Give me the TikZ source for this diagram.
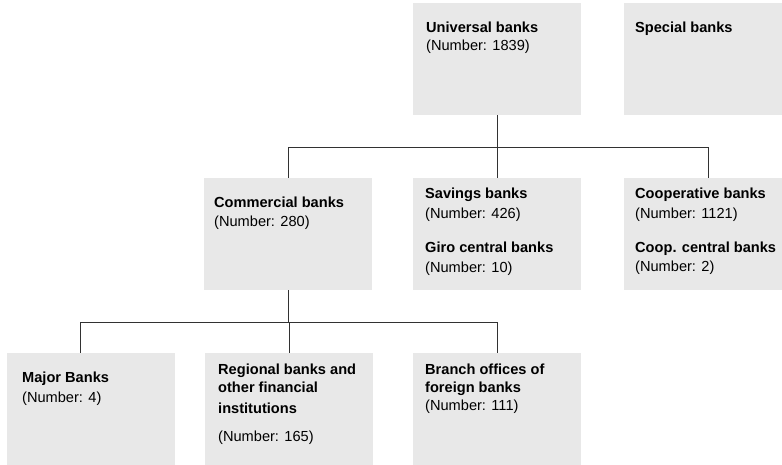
\documentclass[tikz,border=0pt]{standalone}
\usepackage{fontspec}
\setmainfont{Liberation Sans}
\usetikzlibrary{calc}
\definecolor{boxgray}{RGB}{232,232,232}
\definecolor{linegray}{RGB}{50,50,50}
\begin{document}
\begin{tikzpicture}[x=1pt,y=-1pt,
  box/.style={fill=boxgray, draw=none, anchor=north west, minimum width=168pt, minimum height=112pt, inner sep=0pt},
  ttl/.style={anchor=base west, inner sep=0pt, font=\fontsize{14.6}{17}\selectfont\bfseries},
  num/.style={anchor=base west, inner sep=0pt, font=\fontsize{14.6}{17}\selectfont},
  conn/.style={draw=linegray, line width=1pt}]
\useasboundingbox (0,0) rectangle (782,464);
% boxes
\node[box] (univ) at (413,3) {};
\node[box] (spec) at (624,3) {};
\node[box] (comm) at (204,178) {};
\node[box] (sav) at (413,178) {};
\node[box] (coop) at (624,178) {};
\node[box] (major) at (7,353) {};
\node[box] (reg) at (205,353) {};
\node[box] (branch) at (413,353) {};
% texts
\node[ttl] (t1) at (426,32) {Universal banks};
\node[num] (n1) at (426,50) {(Number: 1839)};
\node[ttl] (t2) at (635,32) {Special banks};
\node[ttl] (t3) at (214,207) {Commercial banks};
\node[num] (n3) at (214,226) {(Number: 280)};
\node[ttl] (t4) at (425,198) {Savings banks};
\node[num] (n4) at (425,218) {(Number: 426)};
\node[ttl] (t4b) at (425,252) {Giro central banks};
\node[num] (n4b) at (425,272) {(Number: 10)};
\node[ttl] (t5) at (635,198) {Cooperative banks};
\node[num] (n5) at (635,218) {(Number: 1121)};
\node[ttl] (t5b) at (635,252) {Coop. central banks};
\node[num] (n5b) at (635,271) {(Number: 2)};
\node[ttl] (t6) at (22,382) {Major Banks};
\node[num] (n6) at (22,402) {(Number: 4)};
\node[ttl] (t7) at (218,374) {Regional banks and};
\node[ttl] (t7b) at (218,392) {other financial};
\node[ttl] (t7c) at (218,413) {institutions};
\node[num] (n7) at (218,441) {(Number: 165)};
\node[ttl] (t8) at (425,374) {Branch offices of};
\node[ttl] (t8b) at (425,392) {foreign banks};
\node[num] (n8) at (425,410) {(Number: 111)};
% connectors
\coordinate (bus1) at ($(univ.south)+(0,32)$);
\coordinate (bus2) at ($(comm.south)+(0,32)$);
\coordinate (majtop) at ($(major.north west)+(73,0)$);
\path[conn] (univ.south) -- (bus1);
\path[conn] (bus1 -| comm.north) -- (bus1 -| coop.north);
\path[conn] (bus1 -| comm.north) -- (comm.north);
\path[conn] (bus1 -| sav.north) -- (sav.north);
\path[conn] (bus1 -| coop.north) -- (coop.north);
\path[conn] (comm.south) -- (bus2);
\path[conn] (bus2 -| majtop) -- (bus2 -| branch.north);
\path[conn] (bus2 -| majtop) -- (majtop);
\path[conn] (bus2 -| reg.north) -- (reg.north);
\path[conn] (bus2 -| branch.north) -- (branch.north);
\end{tikzpicture}
\end{document}
